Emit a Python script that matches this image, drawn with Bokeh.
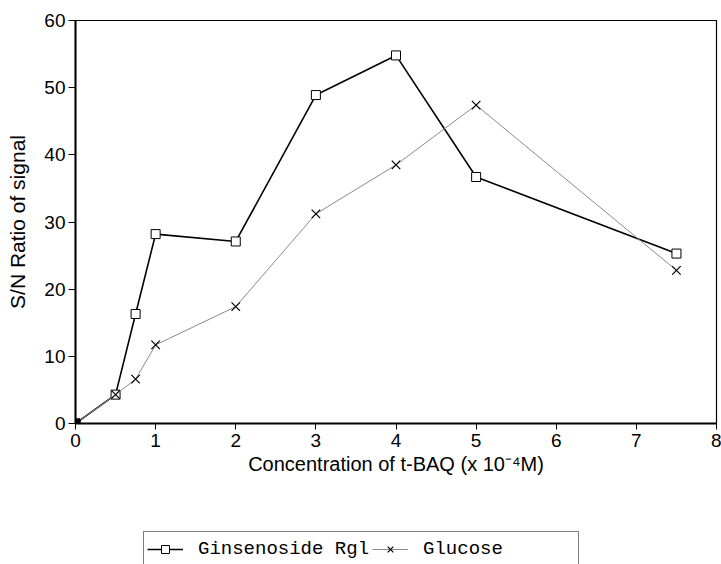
from bokeh.plotting import figure
from bokeh.layouts import column
from bokeh.models import Range1d, FixedTicker, Legend, LegendItem
from bokeh.embed import file_html
from bokeh.resources import INLINE

conc = [0, 0.5, 0.75, 1, 2, 3, 4, 5, 7.5]
ginsenoside = [0, 4.3, 16.3, 28.2, 27.1, 48.9, 54.8, 36.7, 25.3]
glucose = [0, 4.3, 6.6, 11.7, 17.4, 31.2, 38.5, 47.4, 22.8]
x_ticks = [0, 1, 2, 3, 4, 5, 6, 7, 8]
y_ticks = [0, 10, 20, 30, 40, 50, 60]
series_names = ["Ginsenoside Rgl", "Glucose"]

p = figure(width=721, height=521, output_backend="svg", toolbar_location=None,
           x_range=Range1d(0, 8), y_range=Range1d(0, 60),
           min_border_left=75, min_border_right=5, min_border_top=20,
           min_border_bottom=98)
p.grid.visible = False
p.outline_line_color = "black"
p.outline_line_width = 1.2
p.background_fill_color = "white"
p.border_fill_color = "white"

for ax in (p.xaxis[0], p.yaxis[0]):
    ax.axis_line_width = 2
    ax.major_tick_line_width = 1
    ax.major_tick_in = 0
    ax.minor_tick_line_color = None
    ax.major_label_text_font = "Liberation Sans"
    ax.major_label_text_font_size = "19px"
    ax.major_label_text_color = "black"
    ax.axis_label_text_font = "Liberation Sans"
    ax.axis_label_text_font_style = "normal"
    ax.axis_label_text_color = "black"

p.xaxis.ticker = FixedTicker(ticks=x_ticks)
p.yaxis.ticker = FixedTicker(ticks=y_ticks)
p.xaxis.major_tick_out = 6
p.yaxis.major_tick_out = 7
p.xaxis.major_label_standoff = 4
p.yaxis.major_label_standoff = 3
p.xaxis.axis_label = "Concentration of t-BAQ (x 10\u207b\u2074M)"
p.yaxis.axis_label = "S/N Ratio of signal"
p.xaxis.axis_label_text_font_size = "20px"
p.yaxis.axis_label_text_font_size = "21px"
p.xaxis.axis_label_standoff = 3
p.yaxis.axis_label_standoff = 12

p.line(conc, ginsenoside, line_color="black", line_width=1.6)
p.scatter(conc, ginsenoside, marker="square", size=9, line_color="black",
          fill_color="white", line_width=1)
p.line(conc, glucose, line_color="#8a8a8a", line_width=1)
p.scatter(conc, glucose, marker="x", size=12, line_color="black", line_width=1.2)
p.scatter(conc[:1], ginsenoside[:1], marker="square", size=9, color="black")

# legend strip below the chart (its renderers hold the series, placed out of view)
q = figure(width=721, height=43, output_backend="svg", toolbar_location=None,
           x_range=Range1d(100, 101), y_range=Range1d(100, 101),
           x_axis_location=None, y_axis_location=None, min_border=0)
q.grid.visible = False
q.outline_line_color = None
ql1 = q.line(conc, ginsenoside, line_color="black", line_width=1.6)
qs1 = q.scatter(conc, ginsenoside, marker="square", size=9, line_color="black",
                fill_color="white", line_width=1)
ql2 = q.line(conc, glucose, line_color="#8a8a8a", line_width=1)
qs2 = q.scatter(conc, glucose, marker="x", size=12, line_color="black", line_width=1.2)

legend = Legend(items=[LegendItem(label=series_names[0], renderers=[ql1, qs1]),
                       LegendItem(label=series_names[1], renderers=[ql2, qs2])],
                orientation="horizontal", location=(68, -3))
legend.label_text_font = "Liberation Mono"
legend.label_text_font_size = "19px"
legend.label_text_color = "black"
legend.border_line_color = "black"
legend.border_line_width = 1.2
legend.padding = 3
legend.margin = 0
legend.spacing = 3
legend.glyph_width = 36
legend.glyph_height = 20
legend.label_height = 28
legend.label_width = 152
legend.label_standoff = 15
legend.background_fill_alpha = 1
q.add_layout(legend, "center")

layout = column(p, q, spacing=0)
open("out.html", "w").write(file_html(layout, INLINE))
